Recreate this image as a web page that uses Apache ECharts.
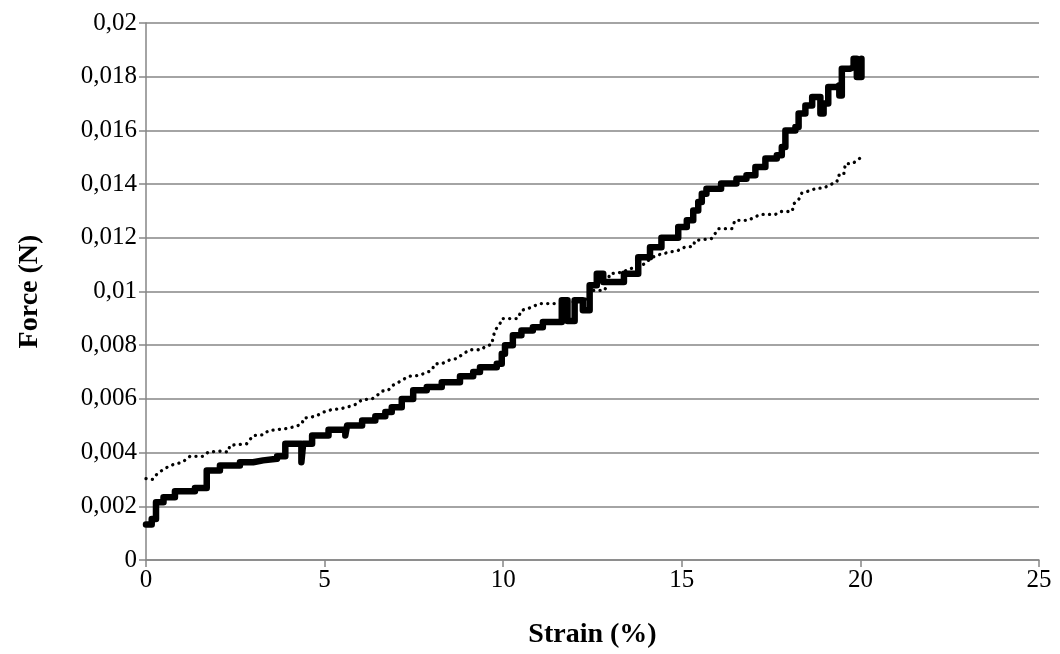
<!DOCTYPE html>
<html>
<head>
<meta charset="utf-8">
<script src="https://cdn.jsdelivr.net/npm/echarts@6/dist/echarts.min.js"></script>
<style>
html,body{margin:0;padding:0;background:#fff;}
#c{width:1060px;height:654px;}
</style>
</head>
<body>
<div id="c"></div>
<script>
// Solid series (step points: at strain x the force becomes y)
var solidStrain = [0,0.16,0.28,0.49,0.81,1.37,1.70,2.07,2.63,3.0,3.28,3.67,3.90,4.35,4.40,4.65,5.11,5.58,5.63,6.05,6.42,6.70,6.88,7.16,7.48,7.86,8.28,8.79,9.16,9.35,9.82,9.96,10.05,10.27,10.51,10.83,11.11,11.64,11.80,12.00,12.23,12.42,12.62,12.80,13.38,13.78,14.11,14.43,14.9,15.14,15.32,15.46,15.56,15.69,16.1,16.53,16.81,17.06,17.34,17.66,17.8,17.9,18.18,18.27,18.46,18.65,18.88,18.97,19.1,19.34,19.41,19.48,19.72,19.81,19.9,20.03];
var solidForce = [0.00132,0.00153,0.00215,0.00234,0.00256,0.00268,0.00333,0.00352,0.00364,0.00371,0.00377,0.00386,0.00433,0.00364,0.00433,0.00464,0.00485,0.00464,0.00501,0.0052,0.00535,0.00551,0.00569,0.006,0.00632,0.00644,0.00662,0.00684,0.007,0.00718,0.00731,0.00768,0.008,0.00837,0.00855,0.00867,0.00886,0.00967,0.0089,0.00967,0.0093,0.01023,0.01066,0.01035,0.01066,0.01128,0.01165,0.012,0.0124,0.01265,0.01302,0.01333,0.01364,0.01383,0.01402,0.0142,0.01433,0.01464,0.01495,0.01507,0.01538,0.016,0.01613,0.01663,0.01693,0.01724,0.01663,0.017,0.01762,0.01768,0.0173,0.0183,0.01836,0.01867,0.01799,0.01867];

// Dotted series
var dotStrain = [0,0.19,0.3,0.47,0.6,0.77,1.02,1.23,1.6,1.74,2.07,2.3,2.35,2.82,3.0,3.28,3.43,3.9,4.18,4.37,4.41,4.74,4.97,5.2,5.44,5.63,5.86,6.05,6.33,6.47,6.61,6.78,6.9,7.11,7.35,7.63,7.81,8.0,8.09,8.28,8.51,8.7,8.88,9.07,9.39,9.49,9.68,9.72,9.77,9.91,9.96,10.41,10.51,10.69,11.02,11.72,12.3,12.47,12.84,12.93,12.98,13.35,13.55,13.74,13.98,14.11,14.3,14.48,14.67,14.9,15.09,15.32,15.37,15.83,15.93,16.02,16.4,16.49,16.86,17.0,17.2,17.62,17.76,18.09,18.14,18.27,18.36,18.55,18.78,18.97,19.16,19.34,19.39,19.53,19.58,19.77,19.91,20.03];
var dotForce = [0.00303,0.003,0.00319,0.00336,0.00346,0.00356,0.00364,0.00386,0.00386,0.00402,0.00405,0.00402,0.00427,0.00433,0.00464,0.00466,0.00482,0.00489,0.00497,0.00507,0.00528,0.00535,0.00551,0.0056,0.00563,0.00569,0.00579,0.00597,0.006,0.00613,0.00629,0.00632,0.0065,0.00665,0.00684,0.00687,0.00696,0.00706,0.00731,0.00731,0.00746,0.0075,0.00768,0.00783,0.00783,0.00795,0.00803,0.0083,0.00855,0.0088,0.00899,0.00899,0.0093,0.00936,0.00955,0.00955,0.0097,0.01004,0.01004,0.01035,0.01066,0.01072,0.01085,0.01091,0.01104,0.01122,0.01135,0.01141,0.01147,0.01153,0.01166,0.01168,0.0119,0.01197,0.01215,0.01234,0.01234,0.01265,0.01265,0.01275,0.01287,0.01287,0.01298,0.01298,0.01327,0.01342,0.01367,0.01374,0.01385,0.01385,0.01398,0.01408,0.01433,0.01433,0.01476,0.01476,0.01488,0.01501];

var xTicks = {min: 0, max: 25, interval: 5};
var yTicks = {min: 0, max: 0.02, interval: 0.002};
var xTitle = 'Strain (%)';
var yTitle = 'Force (N)';

function zip(a, b) { return a.map(function (v, i) { return [v, b[i]]; }); }

var font = 'Liberation Serif';
var chart = echarts.init(document.getElementById('c'), null, {renderer: 'canvas'});
chart.setOption({
  animation: false,
  backgroundColor: '#ffffff',
  grid: {left: 146, right: 21, top: 23, bottom: 94, containLabel: false},
  xAxis: {
    type: 'value', min: xTicks.min, max: xTicks.max, interval: xTicks.interval,
    name: xTitle, nameLocation: 'middle', nameGap: 61,
    nameTextStyle: {fontFamily: font, fontWeight: 'bold', fontSize: 28, color: '#000'},
    axisLine: {show: true, lineStyle: {color: '#868686', width: 1.5}},
    axisTick: {show: true, inside: false, length: 7, lineStyle: {color: '#868686', width: 1.5}},
    axisLabel: {fontFamily: font, fontSize: 25, color: '#000', margin: 8},
    splitLine: {show: false}
  },
  yAxis: {
    type: 'value', min: yTicks.min, max: yTicks.max, interval: yTicks.interval,
    name: yTitle, nameLocation: 'middle', nameGap: 102, nameRotate: 90,
    nameTextStyle: {fontFamily: font, fontWeight: 'bold', fontSize: 28, color: '#000'},
    axisLine: {show: true, lineStyle: {color: '#868686', width: 1.5}},
    axisTick: {show: true, inside: false, length: 7, lineStyle: {color: '#868686', width: 1.5}},
    axisLabel: {fontFamily: font, fontSize: 25, color: '#000', margin: 9,
      formatter: function (v) { return String(parseFloat(v.toFixed(4))).replace('.', ','); }},
    splitLine: {show: true, lineStyle: {color: '#868686', width: 1.5}}
  },
  series: [
    {
      type: 'line', data: zip(dotStrain, dotForce), showSymbol: false, symbol: 'none',
      lineStyle: {color: '#000', width: 3.3, type: [0.1, 6.3], cap: 'round', join: 'round'},
      z: 2
    },
    {
      type: 'line', data: zip(solidStrain, solidForce), showSymbol: false, symbol: 'none', step: 'end',
      lineStyle: {color: '#000', width: 6.5, cap: 'round', join: 'round'},
      z: 3
    }
  ]
});
</script>
</body>
</html>
